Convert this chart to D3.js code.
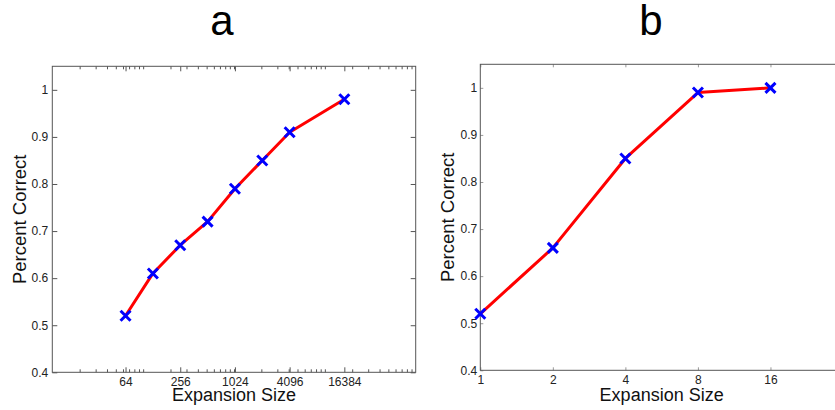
<!DOCTYPE html>
<html>
<head>
<meta charset="utf-8">
<script src="https://cdn.jsdelivr.net/npm/d3@7"></script>
<style>
  body { margin: 0; background: #fff; }
  svg { display: block; font-family: Arial, "Liberation Sans", sans-serif; }
</style>
</head>
<body>
<svg id="chart" width="835" height="410"></svg>
<script>
// panel a: expansion sizes (log scale) and accuracy
const sizesA = [64, 128, 256, 512, 1024, 2048, 4096, 16384];
const accA = [0.52, 0.61, 0.67, 0.72, 0.79, 0.85, 0.91, 0.98];
const xTicksA = [64, 256, 1024, 4096, 16384];

// panel b
const sizesB = [1, 2, 4, 8, 16];
const accB = [0.52, 0.66, 0.85, 0.99, 1.0];
const xTicksB = [1, 2, 4, 8, 16];

const yTicks = [0.4, 0.5, 0.6, 0.7, 0.8, 0.9, 1];
const titles = ["a", "b"];

const svg = d3.select("#chart");

const panels = [
    {
        title: titles[0], sizes: sizesA, acc: accA, ticks: xTicksA,
        x: d3.scaleLog().base(10).domain([10, 100000]).range([52.3, 415.7]),
        y: d3.scaleLinear().domain([0.4, 1.05]).range([372.3, 66.3]),
        minor: true, tick: 5, tickColor: "#555", titleX: 222
    },
    {
        title: titles[1], sizes: sizesB, acc: accB, ticks: xTicksB,
        x: d3.scaleLog().base(2).domain([1, 32]).range([480.3, 843]),
        y: d3.scaleLinear().domain([0.4, 1.05]).range([370.3, 64.3]),
        minor: false, tick: 3, tickColor: "#999", titleX: 651
    }
];

const fmtY = d => d === 1 ? "1" : d.toFixed(1);

// strip d3's default axis font and restyle
const styleAxis = (s, color) => {
    s.attr("font-family", null).attr("font-size", null);
    s.select(".domain").remove();
    s.selectAll("line").attr("stroke", color);
    s.selectAll("text").attr("font-size", 12).attr("fill", "#222");
};

panels.forEach(p => {
    const [x0, x1] = p.x.range();
    const [y0, y1] = p.y.range();
    const g = svg.append("g");

    // minor log ticks
    if (p.minor) {
        const minors = p.x.ticks().filter(t => !p.ticks.includes(t) && t > 10 && t < 100000);
        [[d3.axisBottom, y0], [d3.axisTop, y1]].forEach(([ax, yy]) => {
            g.append("g")
                .attr("transform", `translate(0,${yy})`)
                .call(ax(p.x).tickValues(minors).tickSize(-3).tickFormat(""))
                .call(styleAxis, p.tickColor);
        });
    }

    // bottom axis with labels
    g.append("g")
        .attr("transform", `translate(0,${y0})`)
        .call(d3.axisBottom(p.x).tickValues(p.ticks).tickSize(-p.tick).tickPadding(5).tickFormat(d3.format("d")))
        .call(styleAxis, p.tickColor);

    // top axis
    g.append("g")
        .attr("transform", `translate(0,${y1})`)
        .call(d3.axisTop(p.x).tickValues(p.ticks).tickSize(-p.tick).tickFormat(""))
        .call(styleAxis, p.tickColor);

    // left axis with labels
    g.append("g")
        .attr("transform", `translate(${x0},0)`)
        .call(d3.axisLeft(p.y).tickValues(yTicks).tickSize(-p.tick).tickPadding(p.minor ? 4 : 3).tickFormat(fmtY))
        .call(styleAxis, p.tickColor);

    // right axis
    g.append("g")
        .attr("transform", `translate(${x1},0)`)
        .call(d3.axisRight(p.y).tickValues(yTicks).tickSize(-p.tick).tickFormat(""))
        .call(styleAxis, p.tickColor);

    // box
    g.append("rect")
        .attr("x", x0).attr("y", y1)
        .attr("width", x1 - x0).attr("height", y0 - y1)
        .attr("fill", "none").attr("stroke", "#555").attr("stroke-width", 1);

    const pts = p.sizes.map((s, i) => [p.x(s), p.y(p.acc[i])]);

    g.append("path")
        .attr("d", d3.line()(pts))
        .attr("fill", "none")
        .attr("stroke", "#ff0000")
        .attr("stroke-width", 3)
        .attr("stroke-linejoin", "round");

    // blue x markers
    const r = 5;
    g.selectAll("path.mark")
        .data(pts)
        .enter()
        .append("path")
        .attr("class", "mark")
        .attr("d", d => `M${d[0] - r},${d[1] - r}L${d[0] + r},${d[1] + r}M${d[0] - r},${d[1] + r}L${d[0] + r},${d[1] - r}`)
        .attr("stroke", "#0000ff")
        .attr("stroke-width", 3)
        .attr("fill", "none");

    // labels
    g.append("text")
        .attr("x", (x0 + x1) / 2).attr("y", 401)
        .attr("text-anchor", "middle")
        .attr("font-size", 18)
        .attr("fill", "#111")
        .text("Expansion Size");

    g.append("text")
        .attr("transform", `translate(${x0 - 26},${(y0 + y1) / 2}) rotate(-90)`)
        .attr("text-anchor", "middle")
        .attr("font-size", 18.5)
        .attr("fill", "#111")
        .text("Percent Correct");

    g.append("text")
        .attr("x", p.titleX).attr("y", 35)
        .attr("text-anchor", "middle")
        .attr("font-size", 42)
        .attr("fill", "#000")
        .text(p.title);
});
</script>
</body>
</html>
